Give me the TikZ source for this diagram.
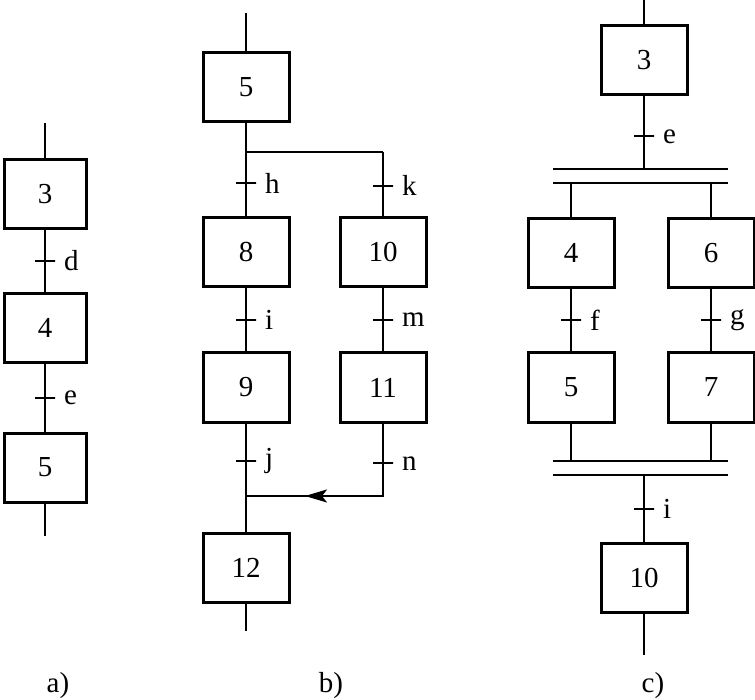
\documentclass[tikz,border=0pt]{standalone}
\usepackage{fontspec}
\setmainfont{Liberation Serif}
\usetikzlibrary{arrows.meta}
\begin{document}
\begin{tikzpicture}[x=1pt,y=-1pt,
  every node/.style={font=\fontsize{29}{32}\selectfont},
  stepbox/.style={draw,line width=3pt,minimum width=84pt,minimum height=69pt,inner sep=0pt},
  link/.style={line width=2pt},
  bar/.style={line width=2.8pt},
  tickmark/.style={draw,line width=2pt,shape=rectangle,minimum width=20pt,minimum height=0pt,inner sep=0pt,
     label={[label distance=6pt,inner sep=1pt]right:#1}},
]
\useasboundingbox (0,0) rectangle (755,700);

% ---------- a)
\node[stepbox,minimum width=82pt] (a3) at (45,194) {3};
\node[stepbox,minimum width=82pt] (a4) at (45,328) {4};
\node[stepbox,minimum width=82pt] (a5) at (45,467.5) {5};
\coordinate (atop) at (45,123);
\coordinate (abot) at (45,536);
\draw[link] (atop) -- (a3);
\draw[link] (a3) -- node[tickmark=d]{} (a4);
\draw[link] (a4) -- node[tickmark=e]{} (a5);
\draw[link] (a5) -- (abot);
\node (la) at (58,686) {a)};

% ---------- b)
\node[stepbox,minimum width=86pt] (b5) at (246,87) {5};
\node[stepbox,minimum width=86pt] (b8) at (246,252.5) {8};
\node[stepbox,minimum width=86pt] (b9) at (246,387.5) {9};
\node[stepbox,minimum width=86pt] (b12) at (246,567.5) {12};
\node[stepbox,minimum width=86pt] (b10) at (383,252.5) {10};
\node[stepbox,minimum width=86pt] (b11) at (383,387.5) {11};
\coordinate (btop) at (246,13);
\coordinate (bbot) at (246,631);
\coordinate (bsplitL) at (246,152);
\coordinate (bsplitR) at (383,152);
\coordinate (bjoinL) at (246,496);
\coordinate (bjoinR) at (383,496);
\coordinate (barrow) at (305,496);
\draw[link] (btop) -- (b5);
\draw[link] (b5) -- (bsplitL);
\draw[link] (bsplitL) -- node[tickmark=h,pos=0.48]{} (b8);
\draw[link] (bsplitL) -- (bsplitR);
\draw[link] (bsplitR) -- node[tickmark=k,pos=0.52]{} (b10);
\draw[link] (b8) -- node[tickmark=i]{} (b9);
\draw[link] (b10) -- node[tickmark=m]{} (b11);
\draw[link] (b9) -- node[tickmark=j,pos=0.35]{} (b12);
\draw[link] (b11) -- node[tickmark=n,pos=0.55]{} (bjoinR) -- (bjoinL);
\draw[link,-{Stealth[length=22pt,width=13pt,inset=5pt]}] (bjoinR) -- (barrow);
\draw[link] (b12) -- (bbot);
\node (lb) at (331,686) {b)};

% ---------- c)
\node[stepbox,minimum width=86pt] (c3) at (644,60.5) {3};
\node[stepbox,minimum width=86pt] (c4) at (571,253) {4};
\node[stepbox,minimum width=86pt] (c6) at (711,253) {6};
\node[stepbox,minimum width=86pt] (c5) at (571,387.5) {5};
\node[stepbox,minimum width=86pt] (c7) at (711,387.5) {7};
\node[stepbox,minimum width=86pt] (c10) at (644,578) {10};
\coordinate (ctop) at (644,0);
\coordinate (cbot) at (644,655);
\coordinate (b1L) at (553,169);
\coordinate (b1R) at (728,169);
\coordinate (b2L) at (553,183);
\coordinate (b2R) at (728,183);
\coordinate (b3L) at (553,461);
\coordinate (b3R) at (728,461);
\coordinate (b4L) at (553,475);
\coordinate (b4R) at (728,475);
\draw[bar] (b1L) -- (b1R);
\draw[bar] (b2L) -- (b2R);
\draw[bar] (b3L) -- (b3R);
\draw[bar] (b4L) -- (b4R);
\draw[link] (ctop) -- (c3);
\draw[link] (c3) -- node[tickmark=e,pos=0.55]{} (c3 |- b1L);
\draw[link] (c4 |- b2L) -- (c4);
\draw[link] (c6 |- b2L) -- (c6);
\draw[link] (c4) -- node[tickmark=f]{} (c5);
\draw[link] (c6) -- node[tickmark=g]{} (c7);
\draw[link] (c5) -- (c5 |- b3L);
\draw[link] (c7) -- (c7 |- b3L);
\draw[link] (c10 |- b4L) -- node[tickmark=i,pos=0.5]{} (c10);
\draw[link] (c10) -- (cbot);
\node (lc) at (653,686) {c)};
\end{tikzpicture}
\end{document}
